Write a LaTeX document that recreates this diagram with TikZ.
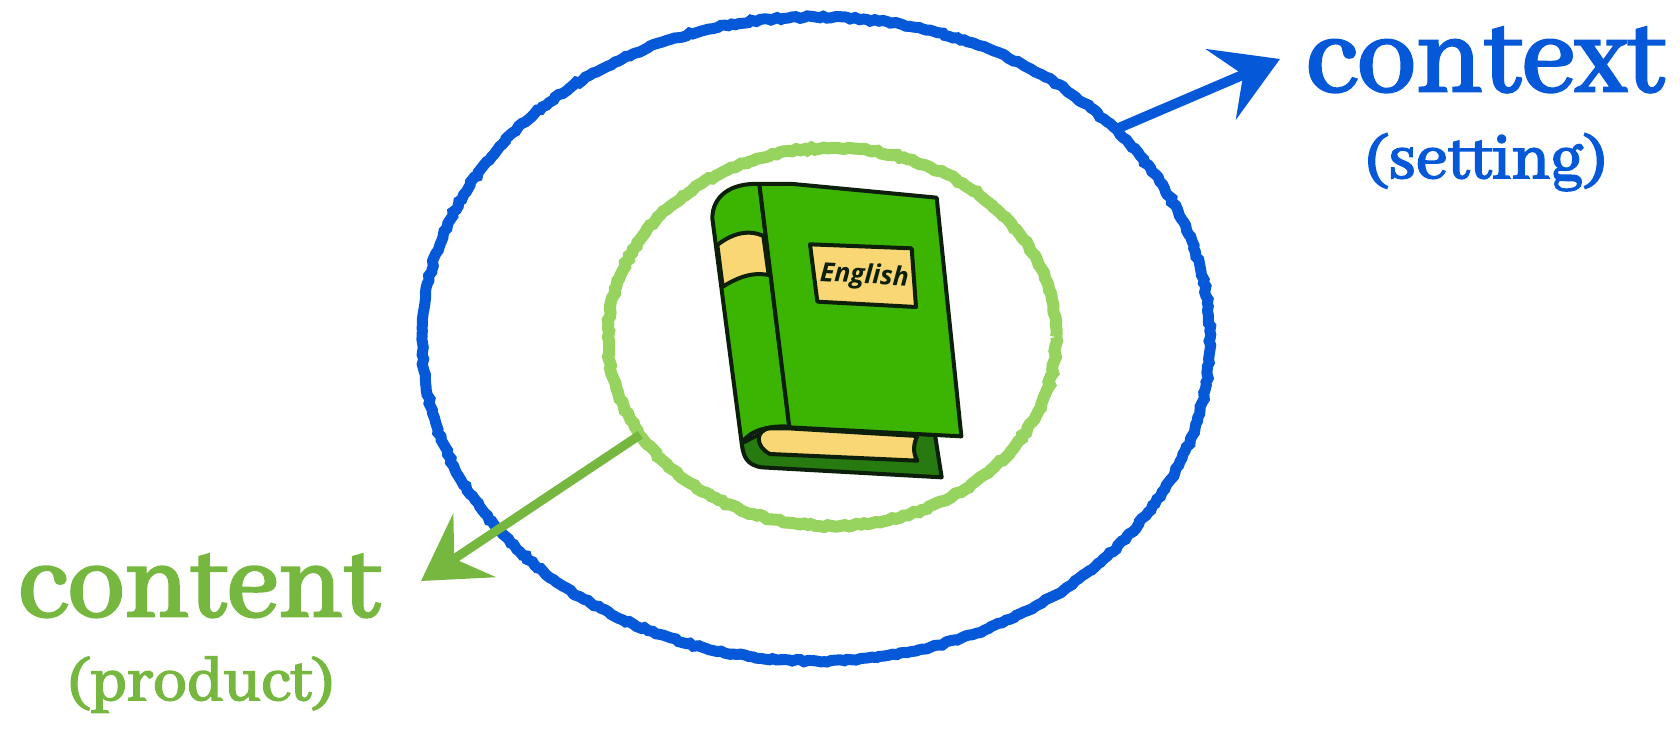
\documentclass[tikz,border=0pt]{standalone}
\usepackage{fontspec}
\usetikzlibrary{shapes.geometric,decorations.pathmorphing,arrows.meta}
\setmainfont{Abhaya Libre}[FakeBold=2.5]
\newfontfamily\bookfont{Open Sans}
\definecolor{blueink}{HTML}{0558D8}
\definecolor{ringgreen}{HTML}{96D35F}
\definecolor{arrowgreen}{HTML}{76B83F}
\definecolor{bookgreen}{HTML}{3BB502}
\definecolor{darkgreen}{HTML}{267A0F}
\definecolor{pagey}{HTML}{FAD775}
\definecolor{inkb}{HTML}{0B1F0B}
\pgfmathsetseed{42}
\tikzset{
  chalk/.style={decorate,decoration={random steps,segment length=2pt,amplitude=0.6pt}},
  ring/.style={ellipse,draw,inner sep=0pt,outer sep=0pt,chalk},
  conn/.style={line cap=butt,-{Stealth[length=32pt,width=38pt,inset=12pt]}},
  bookline/.style={draw=inkb,line width=2pt,line join=round},
  big/.style={inner sep=0pt,anchor=base},
  small/.style={inner sep=0pt,anchor=base},
}
\begin{document}
\begin{tikzpicture}[x=0.5pt,y=-0.5pt]
\useasboundingbox (0,0) rectangle (1680,731);
\node[ring,draw=blueink,line width=5.5pt,minimum width=394pt,minimum height=322pt] (outer) at (816,339) {};
\node[ring,draw=ringgreen,line width=6pt,minimum width=224pt,minimum height=189pt] (inner) at (832,337) {};
\coordinate (blueTip) at (1280,59);
\coordinate (greenTip) at (421,581);
\draw[conn,blueink,line width=5pt] (outer.35) -- (blueTip);
\draw[conn,arrowgreen,line width=4.5pt] (inner.207) -- (greenTip);
\begin{scope}[shift={(680,160)},x=0.16667pt,y=-0.16667pt]
  \path[bookline,fill=darkgreen] (185,850) .. controls (190,890) and (200,915) .. (245,922) -- (785,952) -- (765,825) -- (300,790) -- cycle;
  \path[bookline,fill=pagey] (325,805) -- (270,805) .. controls (225,810) and (225,860) .. (270,882) -- (712,902) .. controls (698,880) and (700,850) .. (712,828) -- cycle;
  \path[bookline,fill=bookgreen] (238,72) .. controls (150,68) and (97,110) .. (97,175) -- (185,850) .. controls (205,815) and (260,795) .. (328,800) -- cycle;
  \path[bookline,fill=pagey] (112,255) .. controls (150,225) and (200,205) .. (250,228) -- (266,345) .. controls (210,335) and (170,355) .. (128,380) -- cycle;
  \path[bookline,fill=bookgreen] (238,72) -- (340,72) -- (770,113) -- (844,829) -- (328,802) -- cycle;
  \path[bookline,fill=pagey] (390,253) -- (695,265) -- (708,441) -- (412,425) -- cycle;
  \node[rotate=-3,inner sep=0pt,text=inkb,font=\bookfont\bfseries\itshape\fontsize{13.2}{15}\selectfont] (english) at (553,350) {English};
\end{scope}
\node[big,text=blueink,font=\fontsize{60}{62}\selectfont] (context) at (1485,91) {context};
\node[small,text=blueink,font=\fontsize{35}{37}\selectfont] (setting) at (1486,178) {(setting)};
\node[big,text=arrowgreen,font=\fontsize{58}{60}\selectfont] (content) at (199,616) {content};
\node[small,text=arrowgreen,font=\fontsize{34}{36}\selectfont] (product) at (201,700) {(product)};
\end{tikzpicture}
\end{document}
